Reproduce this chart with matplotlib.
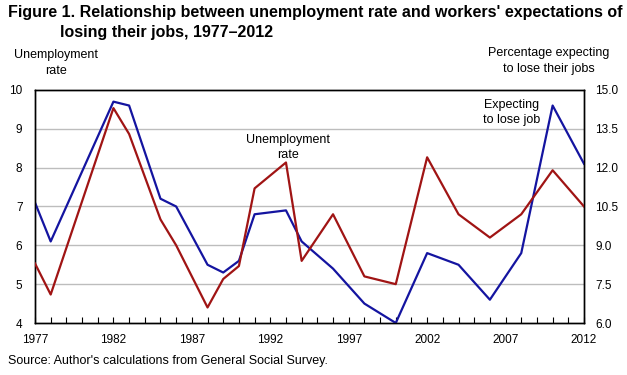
import matplotlib.pyplot as plt

# GSS survey years
years = [1977, 1978, 1982, 1983, 1985, 1986, 1988, 1989, 1990, 1991, 1993,
         1994, 1996, 1998, 2000, 2002, 2004, 2006, 2008, 2010, 2012]
# blue line, left axis
blue_vals = [7.1, 6.1, 9.7, 9.6, 7.2, 7.0, 5.5, 5.3, 5.6, 6.8, 6.9,
             6.1, 5.4, 4.5, 4.0, 5.8, 5.5, 4.6, 5.8, 9.6, 8.1]
# red line, right axis
red_vals = [8.3, 7.1, 14.3, 13.3, 10.0, 9.0, 6.6, 7.7, 8.2, 11.2, 12.2,
            8.4, 10.2, 7.8, 7.5, 12.4, 10.2, 9.3, 10.2, 11.9, 10.5]

left_ticks = [4, 5, 6, 7, 8, 9, 10]
right_ticks = [6.0, 7.5, 9.0, 10.5, 12.0, 13.5, 15.0]
x_ticks = [1977, 1982, 1987, 1992, 1997, 2002, 2007, 2012]

plt.rcParams['font.family'] = ['Liberation Sans', 'DejaVu Sans']

blue = "#1414a0"
red = "#a01414"

fig = plt.figure(figsize=(6.27, 3.75), dpi=100)
ax = fig.add_axes([35 / 627, 1 - 323 / 375, 549 / 627, 233 / 375])
ax2 = ax.twinx()

for v in left_ticks[1:-1]:
    ax.axhline(v, color="#bdbdbd", lw=1, zorder=0)

ax.plot(years, blue_vals, color=blue, lw=1.6, zorder=3)
ax2.plot(years, red_vals, color=red, lw=1.6, zorder=3)

ax.set_xlim(1977, 2012)
ax.set_ylim(4, 10)
ax2.set_ylim(6, 15)

ax.set_yticks(left_ticks)
ax.set_yticklabels([str(v) for v in left_ticks], fontsize=8.5)
ax2.set_yticks(right_ticks)
ax2.set_yticklabels([f"{v:.1f}" for v in right_ticks], fontsize=8.5)
ax.tick_params(axis="y", length=0, pad=9)
ax2.tick_params(axis="y", length=0, pad=8)

ax.set_xticks(x_ticks)
ax.set_xticklabels([str(v) for v in x_ticks], fontsize=8.5)
ax.set_xticks(range(1977, 2013), minor=True)
ax.tick_params(axis="x", which="both", direction="in", length=4, width=0.8, pad=8)

for a in (ax, ax2):
    for s in a.spines.values():
        s.set_linewidth(1)
        s.set_color("black")

ax.text(1993.1, 8.53, "Unemployment\nrate", ha="center", va="center",
        fontsize=9, linespacing=1.35, zorder=4)
ax.text(2007.4, 9.41, "Expecting\nto lose job", ha="center", va="center",
        fontsize=9, linespacing=1.35, zorder=4)

fig.text(8 / 627, 1 - 13 / 375, "Figure 1. Relationship between unemployment rate and workers' expectations of",
         fontsize=11.5, fontweight="bold", va="center", ha="left")
fig.text(60 / 627, 1 - 33 / 375, "losing their jobs, 1977\u20132012",
         fontsize=11.5, fontweight="bold", va="center", ha="left")
fig.text(56 / 627, 1 - 63 / 375, "Unemployment\nrate", ha="center", va="center",
         fontsize=9, linespacing=1.4)
fig.text(549 / 627, 1 - 61 / 375, "Percentage expecting\nto lose their jobs", ha="center",
         va="center", fontsize=9, linespacing=1.4)
fig.text(8 / 627, 1 - 361 / 375, "Source: Author's calculations from General Social Survey.",
         fontsize=9, va="center", ha="left")

fig.savefig("out.png", dpi=100)
